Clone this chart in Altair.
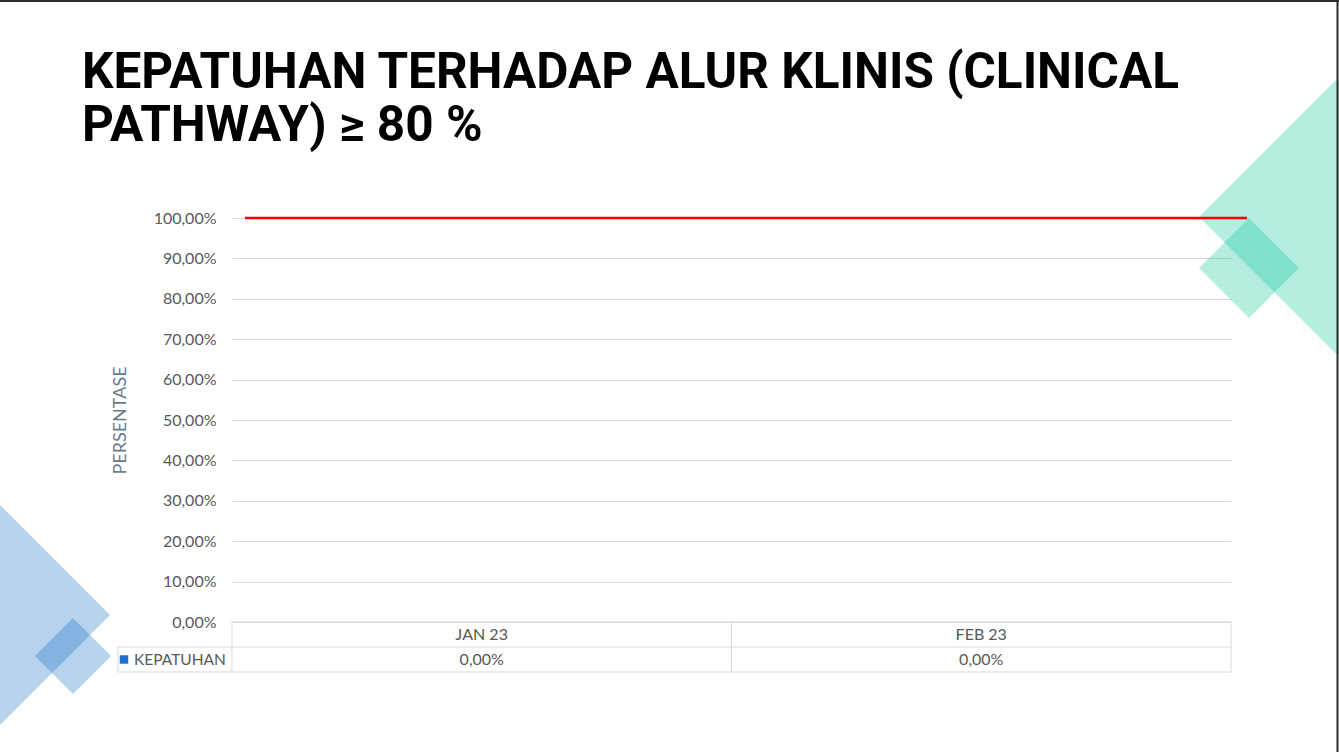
import altair as alt
import pandas as pd

# ---------------- data ----------------
TITLE_LINES = ["KEPATUHAN TERHADAP ALUR KLINIS (CLINICAL", "PATHWAY) \u2265 80 %"]
MONTHS = ["JAN 23", "FEB 23"]
KEPATUHAN = [0.0, 0.0]
SERIES = "KEPATUHAN"
TARGET = [1.0]
Y_TICKS = [0.0, 0.1, 0.2, 0.3, 0.4, 0.5, 0.6, 0.7, 0.8, 0.9, 1.0]
Y_TITLE = "PERSENTASE"

# ---------------- layout ----------------
W, H = 999, 404
PAD = {"left": 232, "top": 218, "right": 108, "bottom": 130}
GRID = "#d9d9d9"
TXT = "#595959"
FONT = "Lato"


def pct(v):
    return f"{v * 100:.2f}%".replace(".", ",")


df = pd.DataFrame({"month": MONTHS, "value": KEPATUHAN,
                   "label": [pct(v) for v in KEPATUHAN]})
one = pd.DataFrame({"k": [0]})
tgt = pd.DataFrame({"target": TARGET})

xscale = alt.Scale(type="band", domain=MONTHS, paddingInner=0, paddingOuter=0)
x_enc = alt.X("month:N", scale=xscale, axis=None)

yaxis = alt.Axis(
    values=Y_TICKS,
    labelExpr="replace(format(datum.value, '.2%'), '.', ',')",
    domain=False, ticks=False, tickSize=0, labelPadding=16,
    labelFont=FONT, labelFontSize=16, labelColor=TXT,
    grid=True, gridColor=GRID, gridWidth=1,
    title=Y_TITLE, titleFont=FONT, titleFontSize=18, titleFontWeight="normal",
    titleColor="#6b7b8c", titleX=-112, titleY=202, titleAngle=270,
    titleAlign="center", titleBaseline="middle",
)
yscale = alt.Scale(domain=[0, 1], nice=False, zero=True)


def diamond(cx, cy, half, color, opacity):
    return alt.Chart(one).mark_point(
        shape="square", filled=True, angle=45, size=2 * half * half,
        color=color, opacity=opacity, strokeWidth=0,
    ).encode(x=alt.value(cx - PAD["left"]), y=alt.value(cy - PAD["top"]))


deco = [
    diamond(0, 615, 110, "#0868c5", 0.29),
    diamond(73, 656, 38, "#0868c5", 0.29),
    diamond(1337, 217, 138, "#0ac79a", 0.30),
    diamond(1249, 268, 50, "#0ac79a", 0.30),
]

bars = alt.Chart(df).mark_bar(color="#1f6fc6").encode(
    x=x_enc, y=alt.Y("value:Q", scale=yscale, axis=yaxis)
)

red = alt.Chart(tgt).mark_rule(color="#ff0000", strokeWidth=2.5).encode(
    y=alt.Y("target:Q", scale=yscale),
    x=alt.value(245 - PAD["left"]), x2=alt.value(1247 - PAD["left"]),
)

# ---- data table below the plot ----
def hline(y, x0, x1):
    return alt.Chart(one).mark_rule(color=GRID, strokeWidth=1).encode(
        y=alt.value(y - PAD["top"]), x=alt.value(x0 - PAD["left"]),
        x2=alt.value(x1 - PAD["left"]))


def vline_value(x, y0, y1):
    return alt.Chart(one).mark_rule(color=GRID, strokeWidth=1).encode(
        x=alt.value(x - PAD["left"]), y=alt.value(y0 - PAD["top"]),
        y2=alt.value(y1 - PAD["top"]))


table = [
    hline(622, 232, 1231),
    hline(647, 118, 1231),
    hline(672, 118, 1231),
    vline_value(118, 647, 672),
    alt.Chart(df).mark_rule(color=GRID, strokeWidth=1).encode(
        x=alt.X("month:N", scale=xscale, axis=None, bandPosition=0),
        y=alt.value(622 - PAD["top"]), y2=alt.value(672 - PAD["top"])),
    vline_value(1231, 622, 672),
    alt.Chart(df).mark_text(font=FONT, fontSize=16, color=TXT, baseline="middle").encode(
        x=x_enc, y=alt.value(635 - PAD["top"]), text="month:N"),
    alt.Chart(df).mark_text(font=FONT, fontSize=16, color=TXT, baseline="middle").encode(
        x=x_enc, y=alt.value(660 - PAD["top"]), text="label:N"),
    alt.Chart(one).mark_point(shape="square", filled=True, size=72, color="#1f6fc6",
                              opacity=1, strokeWidth=0).encode(
        x=alt.value(124 - PAD["left"]), y=alt.value(659.5 - PAD["top"])),
    alt.Chart(one).mark_text(font=FONT, fontSize=15.5, color=TXT, align="left",
                             baseline="middle").encode(
        x=alt.value(134 - PAD["left"]), y=alt.value(660 - PAD["top"]),
        text=alt.value(SERIES)),
]

titles = [
    alt.Chart(one).mark_text(font="Roboto", fontWeight="bold", fontSize=49.5,
                             color="#000000", align="left", baseline="alphabetic").encode(
        x=alt.value(82 - PAD["left"]), y=alt.value(yb - PAD["top"]), text=alt.value(t))
    for t, yb in zip(TITLE_LINES, [88, 141])
]

border = [
    alt.Chart(one).mark_rule(color="#2b2b2b", strokeWidth=2).encode(
        y=alt.value(1 - PAD["top"]), x=alt.value(-PAD["left"]), x2=alt.value(1339 - PAD["left"])),
    alt.Chart(one).mark_rule(color="#2b2b2b", strokeWidth=2).encode(
        x=alt.value(1337.5 - PAD["left"]), y=alt.value(-PAD["top"]), y2=alt.value(752 - PAD["top"])),
]

chart = alt.layer(*deco, bars, *table, red, *titles, *border).properties(
    width=W, height=H,
    autosize=alt.AutoSizeParams(type="none"),
    padding=PAD,
    background="#ffffff",
).configure_view(strokeWidth=0)

chart.save("out.html", embed_options={"renderer": "svg", "actions": False})
